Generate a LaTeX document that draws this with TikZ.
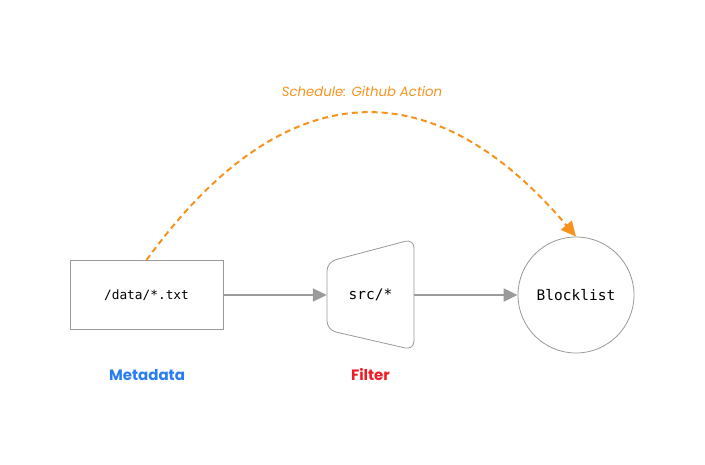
\documentclass[tikz,border=0pt]{standalone}
\usepackage{fontspec}
\setmainfont{Poppins}
\setmonofont{DejaVu Sans Mono}
\usetikzlibrary{arrows.meta}
\definecolor{linegray}{HTML}{9B9B9B}
\definecolor{boxgray}{HTML}{999999}
\definecolor{orng}{HTML}{F7921E}
\definecolor{blu}{HTML}{2A7DF0}
\definecolor{rd}{HTML}{EE1D25}
\tikzset{
  box/.style={draw=boxgray, line width=0.8pt, inner sep=0pt},
  flow/.style={draw=linegray, line width=2pt, -{Triangle[length=14pt,width=13pt]}},
  sched/.style={draw=orng, line width=2pt, dash pattern=on 6pt off 4pt, -{Triangle[length=15pt,width=14pt]}},
  lbl/.style={font=\fontsize{15}{18}\selectfont\bfseries},
}
\begin{document}
\begin{tikzpicture}[x=1pt,y=-1pt]
\useasboundingbox (0,0) rectangle (705,465);
% Metadata box
\node[box, minimum width=153pt, minimum height=69pt] (data) at (146.5,295) {\fontsize{12.8}{15}\selectfont\ttfamily /data/*.txt};
% Filter trapezoid
\draw[box, rounded corners=9pt] (327,262) -- (414,239) -- (414,350) -- (327,330) -- cycle;
\node[inner sep=0pt, minimum width=87pt, minimum height=60pt] (filt) at (370.5,295) {\fontsize{14.5}{17}\selectfont\ttfamily src/*};
% Blocklist circle
\node[box, circle, minimum size=116pt] (block) at (576,295) {\fontsize{14.5}{17}\selectfont\ttfamily Blocklist};
% flows
\draw[flow] (data.east) -- (filt.west);
\draw[flow] (filt.east) -- (block.west);
% schedule
\coordinate (c1) at (285,69);
\coordinate (c2) at (434,69);
\draw[sched] (data.north) .. controls (c1) and (c2) .. (block.north);
\node[text=orng, font=\fontsize{13.3}{16}\selectfont\itshape] (schedlbl) at (362,92) {Schedule: Github Action};
% labels
\node[lbl, text=blu] (metalbl) at (147,375) {Metadata};
\node[lbl, text=rd] (filtlbl) at (370.5,375) {Filter};
\end{tikzpicture}
\end{document}
